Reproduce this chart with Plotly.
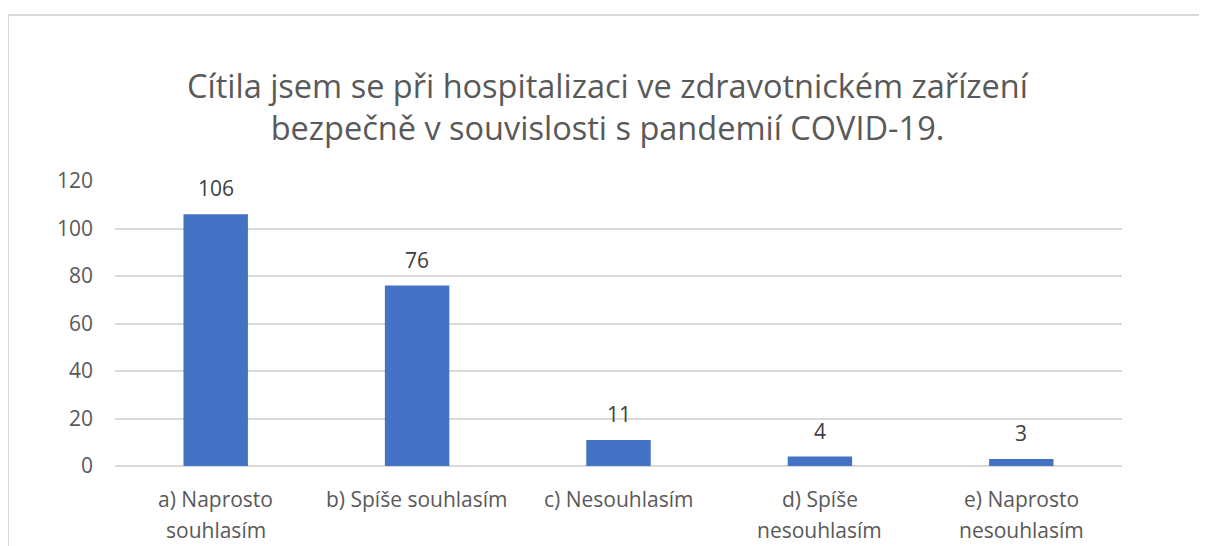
import plotly.graph_objects as go

categories = ["a) Naprosto<br>souhlasím", "b) Spíše souhlasím", "c) Nesouhlasím",
              "d) Spíše<br>nesouhlasím", "e) Naprosto<br>nesouhlasím"]
values = [106, 76, 11, 4, 3]
y_ticks = [0, 20, 40, 60, 80, 100, 120]
title_lines = ["Cítila jsem se při hospitalizaci ve zdravotnickém zařízení",
               "bezpečně v souvislosti s pandemií COVID-19."]

FONT = "Open Sans"
TXT = "#595959"
W, H = 1199, 538
ML, MR, MT, MB = 107, 85, 173, 80
PW, PH = W - ML - MR, H - MT - MB

fig = go.Figure(go.Bar(
    x=categories, y=values,
    marker=dict(color="#4472C4", line=dict(width=0)),
))

for c, v in zip(categories, values):
    fig.add_annotation(x=c, y=v, text=str(v), showarrow=False,
                       yanchor="bottom", yshift=10,
                       font=dict(family=FONT, size=21, color="#404040"))

# category labels (each line placed with Excel-like line spacing)
for c in categories:
    for i, line in enumerate(c.split("<br>")):
        fig.add_annotation(x=c, y=0, xref="x", yref="paper", text=line,
                           showarrow=False, yanchor="middle", yshift=-33 - 31 * i,
                           font=dict(family=FONT, size=21, color=TXT))

fig.update_layout(
    width=W, height=H,
    margin=dict(l=ML, r=MR, t=MT, b=MB),
    paper_bgcolor="white", plot_bgcolor="white",
    bargap=0.68,
    showlegend=False,
    title=dict(text="<br>".join(title_lines), x=0.5, xanchor="center",
               y=0.833, yanchor="middle", xref="container", yref="container",
               font=dict(family=FONT, size=32.5, color=TXT)),
    xaxis=dict(showgrid=False, showline=False, ticks="", showticklabels=False),
    yaxis=dict(range=[0, 120], tickvals=y_ticks, showgrid=True, gridcolor="#d9d9d9",
               gridwidth=1.5, zeroline=True, zerolinecolor="#d9d9d9", zerolinewidth=1.5,
               showline=False, ticks="", ticklabelstandoff=21,
               tickfont=dict(family=FONT, size=21, color=TXT)),
    shapes=[dict(type="rect", xref="paper", yref="paper",
                 x0=-(ML - 0) / PW, x1=1.5, y0=-0.5, y1=(PH + MT - 7) / PH,
                 line=dict(color="#d9d9d9", width=2), layer="below")],
)

fig.write_html("out.html")
